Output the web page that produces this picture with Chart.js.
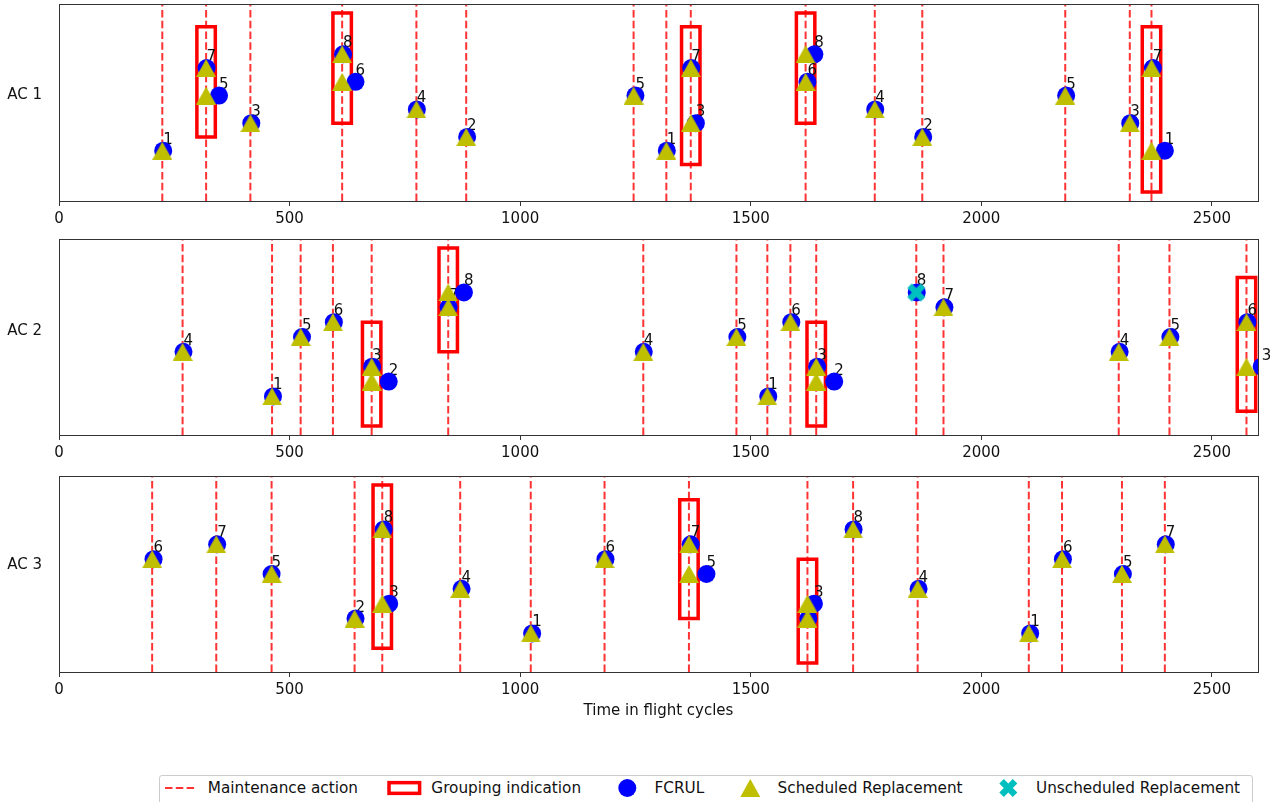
<!DOCTYPE html>
<html>
<head>
<meta charset="utf-8">
<title>Maintenance schedule per aircraft</title>
<script src="https://cdn.jsdelivr.net/npm/chart.js@4.4.1/dist/chart.umd.min.js"></script>
<style>
  html, body { margin: 0; padding: 0; background: #fff; }
  body { width: 1288px; height: 802px; position: relative; overflow: hidden; font-family: "DejaVu Sans", sans-serif; }
  canvas.ac { position: absolute; left: 0; }
  #legend { position: absolute; left: 159px; top: 775px; width: 1094px; height: 40px; border: 1px solid #ccc; border-radius: 3px; box-sizing: border-box; background: #fff; }
  #legend .items { position: absolute; left: 5px; top: 3px; display: flex; align-items: center; column-gap: 30.6px; font-size: 15.28px; line-height: 18px; color: #111; white-space: nowrap; }
  #legend .item { display: flex; align-items: center; column-gap: 12.2px; }
  #legend svg { display: block; }
</style>
</head>
<body>
<canvas class="ac" id="ac1" width="1288" height="236" style="top:-6px"></canvas>
<canvas class="ac" id="ac2" width="1288" height="235" style="top:229px"></canvas>
<canvas class="ac" id="ac3" width="1288" height="254" style="top:466px"></canvas>

<div id="legend">
  <div class="items">
    <div class="item">
      <svg width="30.6" height="18"><line x1="0" y1="9" x2="30.6" y2="9" stroke="rgba(255,0,0,0.8)" stroke-width="2" stroke-dasharray="7.5 3.3"/></svg>
      <span>Maintenance action</span>
    </div>
    <div class="item">
      <svg width="30.6" height="18" style="overflow:visible"><rect x="0" y="3.65" width="30.6" height="10.7" fill="none" stroke="#ff0000" stroke-width="3.5"/></svg>
      <span>Grouping indication</span>
    </div>
    <div class="item">
      <svg width="30.6" height="18"><circle cx="15.3" cy="9" r="9" fill="#0000ff"/></svg>
      <span>FCRUL</span>
    </div>
    <div class="item">
      <svg width="30.6" height="18"><polygon points="15.3,0 25.3,18 5.3,18" fill="#bfbf00"/></svg>
      <span>Scheduled Replacement</span>
    </div>
    <div class="item">
      <svg width="30.6" height="18"><polygon points="10.8,0 15.3,4.5 19.8,0 24.3,4.5 19.8,9 24.3,13.5 19.8,18 15.3,13.5 10.8,18 6.3,13.5 10.8,9 6.3,4.5" fill="#00bfbf"/></svg>
      <span>Unscheduled Replacement</span>
    </div>
  </div>
</div>

<script>
// ---- data ----------------------------------------------------------
const X_MIN = 0;
const X_MAX = 2600;
const X_TICKS = [0, 500, 1000, 1500, 2000, 2500];
const AIRCRAFT = ["AC 1", "AC 2", "AC 3"];

// AC 1
const ac1Maintenance = [224, 319, 415, 614, 775, 883, 1246, 1317, 1370, 1619, 1769, 1872, 2182, 2322, 2369];
const ac1Component   = [1, 7, 5, 3, 8, 6, 4, 2, 5, 1, 7, 3, 8, 6, 4, 2, 5, 3, 7, 1];
const ac1Replaced    = [224, 319, 319, 415, 614, 614, 775, 883, 1246, 1317, 1370, 1370, 1619, 1619, 1769, 1872, 2182, 2322, 2369, 2369];
const ac1Fcrul       = [226, 320, 347, 417, 616, 643, 776, 885, 1250, 1318, 1371, 1381, 1638, 1623, 1770, 1874, 2184, 2323, 2372, 2398];
const ac1Unscheduled = [];
const ac1Groups      = [319, 614, 1370, 1619, 2369];

// AC 2
const ac2Maintenance = [268, 462, 524, 594, 678, 844, 1267, 1469, 1536, 1586, 1642, 1859, 1918, 2298, 2408, 2575];
const ac2Component   = [4, 1, 5, 6, 3, 2, 7, 8, 4, 5, 1, 6, 3, 2, 8, 7, 4, 5, 6, 3];
const ac2Replaced    = [268, 462, 524, 594, 678, 678, 844, 844, 1267, 1469, 1536, 1586, 1642, 1642, 1859, 1918, 2298, 2408, 2575, 2575];
const ac2Fcrul       = [270, 464, 527, 596, 679, 715, 845, 878, 1268, 1471, 1538, 1588, 1644, 1681, 1860, 1920, 2300, 2410, 2577, 2608];
const ac2Unscheduled = [1859];
const ac2Groups      = [678, 844, 1642, 2575];

// AC 3
const ac3Maintenance = [202, 341, 461, 641, 701, 870, 1023, 1183, 1366, 1623, 1722, 1862, 2103, 2175, 2305, 2398];
const ac3Component   = [6, 7, 5, 2, 8, 3, 4, 1, 6, 7, 5, 3, 2, 8, 4, 1, 6, 5, 7];
const ac3Replaced    = [202, 341, 461, 641, 701, 701, 870, 1023, 1183, 1366, 1366, 1623, 1623, 1722, 1862, 2103, 2175, 2305, 2398];
const ac3Fcrul       = [205, 343, 461, 643, 704, 716, 873, 1026, 1185, 1370, 1404, 1637, 1625, 1723, 1864, 2106, 2177, 2307, 2400];
const ac3Unscheduled = [];
const ac3Groups      = [701, 1366, 1623];

// ---- look ------------------------------------------------------------
const BLUE = "#0000ff";
const OLIVE = "#bfbf00";
const CYAN = "#00bfbf";
const RED = "#ff0000";
const MAINT_COLOR = "rgba(255, 0, 0, 0.8)";
const AXIS_COLOR = "#333";
const TEXT_COLOR = "#111";
const FONT = { family: "DejaVu Sans", size: 15 };

const GROUP_HALF_WIDTH = 20;   // flight cycles either side of the grouped action
const GROUP_MARGIN = 3;        // box reaches 3 components beyond the grouped ones

const Y_LIMITS = [[-2.65, 11.65], [-1.6, 11.6], [-1.6, 11.6]];
const AC_LABEL_AT = [5.05, 5.42, 5.62];

function triangleMarker() {
  const c = document.createElement("canvas");
  c.width = 20; c.height = 18;
  const g = c.getContext("2d");
  g.fillStyle = OLIVE;
  g.beginPath();
  g.moveTo(10, 0); g.lineTo(20, 18); g.lineTo(0, 18);
  g.closePath(); g.fill();
  return c;
}

function crossMarker() {
  const c = document.createElement("canvas");
  c.width = 20; c.height = 20;
  const g = c.getContext("2d");
  const pts = [[-1,-2],[0,-1],[1,-2],[2,-1],[1,0],[2,1],[1,2],[0,1],[-1,2],[-2,1],[-1,0],[-2,-1]];
  g.fillStyle = CYAN;
  g.beginPath();
  pts.forEach(([px, py], i) => {
    const X = 10 + px * 4.5, Y = 10 + py * 4.5;
    if (i === 0) g.moveTo(X, Y); else g.lineTo(X, Y);
  });
  g.closePath(); g.fill();
  return c;
}

const TRIANGLE = triangleMarker();
const CROSS = crossMarker();

// component numbers written next to each FCRUL point, under the markers
const componentLabels = {
  id: "componentLabels",
  beforeDatasetDraw(chart, args, opts) {
    if (args.index !== 2) return;
    const { ctx, scales } = chart;
    ctx.save();
    ctx.font = "15px 'DejaVu Sans'";
    ctx.fillStyle = TEXT_COLOR;
    ctx.textAlign = "left";
    ctx.textBaseline = "alphabetic";
    opts.xs.forEach((x, i) => {
      const px = scales.x.getPixelForValue(x);
      const py = scales.y.getPixelForValue(opts.ys[i]) - 7;
      ctx.fillText(String(opts.ys[i]), px, py);
    });
    ctx.restore();
  }
};

// box around the plotting area
const frame = {
  id: "frame",
  afterDatasetsDraw(chart) {
    const { ctx, chartArea: a } = chart;
    ctx.save();
    ctx.strokeStyle = AXIS_COLOR;
    ctx.lineWidth = 1;
    ctx.strokeRect(a.left + 0.5, a.top + 0.5, a.right - a.left, a.bottom - a.top);
    ctx.restore();
  }
};

function drawAircraft(canvasId, idx, maint, comp, repl, fcrul, unsched, groups, xAxisHeight, showTitle) {
  const [yMin, yMax] = Y_LIMITS[idx];

  const lineData = [];
  maint.forEach(x => lineData.push({ x, y: yMin }, { x, y: yMax }, { x, y: null }));

  const boxData = [];
  groups.forEach(g => {
    const cs = comp.filter((c, i) => repl[i] === g);
    const lo = Math.min(...cs) - GROUP_MARGIN;
    const hi = Math.max(...cs) + GROUP_MARGIN;
    const x0 = g - GROUP_HALF_WIDTH, x1 = g + GROUP_HALF_WIDTH;
    boxData.push({ x: x0, y: lo }, { x: x1, y: lo }, { x: x1, y: hi }, { x: x0, y: hi },
                 { x: x0, y: lo }, { x: x1, y: lo }, { x: x1, y: null });
  });

  const circles = fcrul.map((x, i) => ({ x, y: comp[i] }));
  const scheduled = [], unscheduled = [];
  repl.forEach((x, i) => {
    (unsched.includes(x) ? unscheduled : scheduled).push({ x, y: comp[i] });
  });

  return new Chart(document.getElementById(canvasId), {
    type: "scatter",
    data: {
      datasets: [
        { type: "line", data: lineData, borderColor: MAINT_COLOR, borderWidth: 2,
          borderDash: [7.5, 3.3], pointRadius: 0, spanGaps: false, clip: 0, order: 6 },
        { type: "line", data: boxData, borderColor: RED, borderWidth: 3.5,
          borderJoinStyle: "miter", pointRadius: 0, spanGaps: false, clip: 0, order: 5 },
        { data: circles, pointStyle: "circle", pointRadius: 9, backgroundColor: BLUE,
          borderWidth: 0, clip: 0, order: 3 },
        { data: scheduled, pointStyle: TRIANGLE, pointRadius: 9, clip: 0, order: 2 },
        { data: unscheduled, pointStyle: CROSS, pointRadius: 9, clip: 0, order: 1 }
      ]
    },
    options: {
      responsive: false,
      animation: false,
      events: [],
      layout: { padding: { top: 0, right: 30, left: 0, bottom: 0 } },
      scales: {
        x: {
          type: "linear", min: X_MIN, max: X_MAX,
          afterBuildTicks: s => { s.ticks = X_TICKS.map(v => ({ value: v })); },
          afterFit: s => { s.height = xAxisHeight; },
          border: { display: false },
          grid: { drawOnChartArea: false, drawTicks: true, tickLength: 5, color: AXIS_COLOR, lineWidth: 1 },
          ticks: { color: TEXT_COLOR, font: FONT, padding: 4, maxRotation: 0, autoSkip: false,
                   callback: v => String(v) },
          title: { display: showTitle, text: "Time in flight cycles", color: TEXT_COLOR,
                   font: FONT, padding: { top: 0, bottom: 0 } }
        },
        y: {
          type: "linear", min: yMin, max: yMax,
          afterBuildTicks: s => { s.ticks = [{ value: AC_LABEL_AT[idx] }]; },
          // fixed axis width; the single label sits mid-axis so it needs no end padding
          afterFit: s => { s.width = 59; s.paddingTop = 0; s.paddingBottom = 0; },
          border: { display: false },
          grid: { display: false, drawTicks: true, tickLength: 17 },
          ticks: { color: TEXT_COLOR, font: FONT, padding: 0, callback: () => AIRCRAFT[idx] }
        }
      },
      plugins: {
        legend: { display: false },
        tooltip: { enabled: false },
        componentLabels: { xs: fcrul, ys: comp }
      }
    },
    plugins: [componentLabels, frame]
  });
}

drawAircraft("ac1", 0, ac1Maintenance, ac1Component, ac1Replaced, ac1Fcrul, ac1Unscheduled, ac1Groups, 29, false);
drawAircraft("ac2", 1, ac2Maintenance, ac2Component, ac2Replaced, ac2Fcrul, ac2Unscheduled, ac2Groups, 29, false);
drawAircraft("ac3", 2, ac3Maintenance, ac3Component, ac3Replaced, ac3Fcrul, ac3Unscheduled, ac3Groups, 48, true);
</script>
</body>
</html>
